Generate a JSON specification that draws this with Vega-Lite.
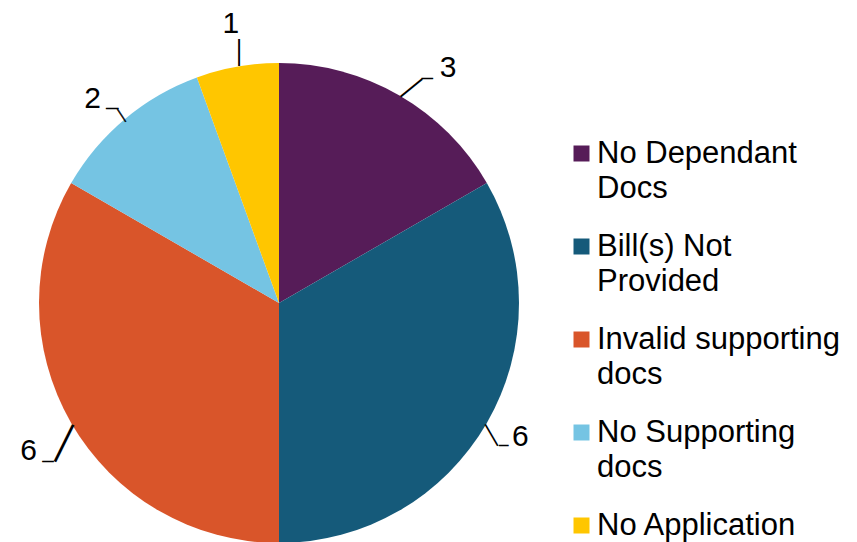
{
  "$schema": "https://vega.github.io/schema/vega-lite/v6.json",
  "width": 480,
  "height": 480,
  "autosize": {"type": "none"},
  "padding": {"left": 39, "top": 63, "right": 338, "bottom": 0},
  "background": "white",
  "config": {"view": {"stroke": null}, "font": "Liberation Sans", "text": {"font": "Liberation Sans", "color": "black", "align": "center", "baseline": "middle"}},
  "data": {
    "values": [
      {"category": "No Dependant Docs", "value": 3, "order": 1},
      {"category": "Bill(s) Not Provided", "value": 6, "order": 2},
      {"category": "Invalid supporting docs", "value": 6, "order": 3},
      {"category": "No Supporting docs", "value": 2, "order": 4},
      {"category": "No Application", "value": 1, "order": 5}
    ]
  },
  "encoding": {
    "theta": {"field": "value", "type": "quantitative", "stack": true},
    "order": {"field": "order", "type": "quantitative"}
  },
  "layer": [
    {
      "mark": {"type": "arc", "outerRadius": 240},
      "encoding": {
        "color": {
          "field": "category",
          "type": "nominal",
          "scale": {
            "domain": ["No Dependant Docs", "Bill(s) Not Provided", "Invalid supporting docs", "No Supporting docs", "No Application"],
            "range": ["#561C58", "#155A7A", "#D9552A", "#75C4E3", "#FFC600"]
          },
          "legend": {
            "title": null,
            "orient": "none",
            "legendX": 527,
            "legendY": 75,
            "symbolType": "square",
            "symbolSize": 256,
            "symbolStrokeWidth": 0,
            "labelFontSize": 31,
            "labelFont": "Liberation Sans",
            "labelColor": "black",
            "labelOffset": 0,
            "labelLimit": 400,
            "rowPadding": 26,
            "labelExpr": "datum.label == 'No Dependant Docs' ? ['No Dependant', 'Docs'] : datum.label == 'Bill(s) Not Provided' ? ['Bill(s) Not', 'Provided'] : datum.label == 'Invalid supporting docs' ? ['Invalid supporting', 'docs'] : datum.label == 'No Supporting docs' ? ['No Supporting', 'docs'] : datum.label",
            "encode": {"labels": {"update": {"lineHeight": {"value": 35.5}}}}
          }
        }
      }
    },
    {"mark": {"type": "text", "radius": 260, "fontSize": 30, "dx": 39, "dy": -9.5},
     "encoding": {"detail": {"field": "category"}, "text": {"condition": {"test": "datum.order == 1", "field": "value", "type": "quantitative"}, "value": ""}}},
    {"mark": {"type": "text", "radius": 260, "fontSize": 30, "dx": 16.3, "dy": 3.75},
     "encoding": {"detail": {"field": "category"}, "text": {"condition": {"test": "datum.order == 2", "field": "value", "type": "quantitative"}, "value": ""}}},
    {"mark": {"type": "text", "radius": 260, "fontSize": 30, "dx": -25.3, "dy": 18.25},
     "encoding": {"detail": {"field": "category"}, "text": {"condition": {"test": "datum.order == 3", "field": "value", "type": "quantitative"}, "value": ""}}},
    {"mark": {"type": "text", "radius": 260, "fontSize": 30, "dx": -19.4, "dy": -5},
     "encoding": {"detail": {"field": "category"}, "text": {"condition": {"test": "datum.order == 4", "field": "value", "type": "quantitative"}, "value": ""}}},
    {"mark": {"type": "text", "radius": 260, "fontSize": 30, "dx": -2.9, "dy": -23.2},
     "encoding": {"detail": {"field": "category"}, "text": {"condition": {"test": "datum.order == 5", "field": "value", "type": "quantitative"}, "value": ""}}},

    {"mark": {"type": "text", "radius": 260, "fontSize": 28, "angle": 320.8, "dx": -4.47, "dy": 8.48},
     "encoding": {"detail": {"field": "category"}, "text": {"condition": {"test": "datum.order == 1", "value": "—"}, "value": ""}}},
    {"mark": {"type": "text", "radius": 260, "fontSize": 11, "dx": 18.2, "dy": 0.5, "stroke": "black", "strokeWidth": 0.7},
     "encoding": {"detail": {"field": "category"}, "text": {"condition": {"test": "datum.order == 1", "value": "—"}, "value": ""}}},

    {"mark": {"type": "text", "radius": 260, "fontSize": 25, "angle": 59.9, "dx": -4.58, "dy": 10.29},
     "encoding": {"detail": {"field": "category"}, "text": {"condition": {"test": "datum.order == 2", "value": "—"}, "value": ""}}},
    {"mark": {"type": "text", "radius": 260, "fontSize": 9, "dx": -0.4, "dy": 12, "stroke": "black", "strokeWidth": 0.8},
     "encoding": {"detail": {"field": "category"}, "text": {"condition": {"test": "datum.order == 2", "value": "—"}, "value": ""}}},

    {"mark": {"type": "text", "radius": 260, "fontSize": 41, "angle": 296.4, "dx": -4.64, "dy": 12.01},
     "encoding": {"detail": {"field": "category"}, "text": {"condition": {"test": "datum.order == 3", "value": "—"}, "value": ""}}},
    {"mark": {"type": "text", "radius": 260, "fontSize": 11, "dx": -5.8, "dy": 28, "stroke": "black", "strokeWidth": 0.7},
     "encoding": {"detail": {"field": "category"}, "text": {"condition": {"test": "datum.order == 3", "value": "—"}, "value": ""}}},

    {"mark": {"type": "text", "radius": 260, "fontSize": 15, "angle": 56.5, "dx": 14.94, "dy": -2.82, "stroke": "black", "strokeWidth": 0.5},
     "encoding": {"detail": {"field": "category"}, "text": {"condition": {"test": "datum.order == 4", "value": "—"}, "value": ""}}},
    {"mark": {"type": "text", "radius": 260, "fontSize": 12, "dx": 0.3, "dy": 4.5, "stroke": "black", "strokeWidth": 0.7},
     "encoding": {"detail": {"field": "category"}, "text": {"condition": {"test": "datum.order == 4", "value": "—"}, "value": ""}}},

    {"mark": {"type": "text", "radius": 260, "fontSize": 27, "angle": 270, "dx": -5.6, "dy": 3.8},
     "encoding": {"detail": {"field": "category"}, "text": {"condition": {"test": "datum.order == 5", "value": "—"}, "value": ""}}}
  ]
}
